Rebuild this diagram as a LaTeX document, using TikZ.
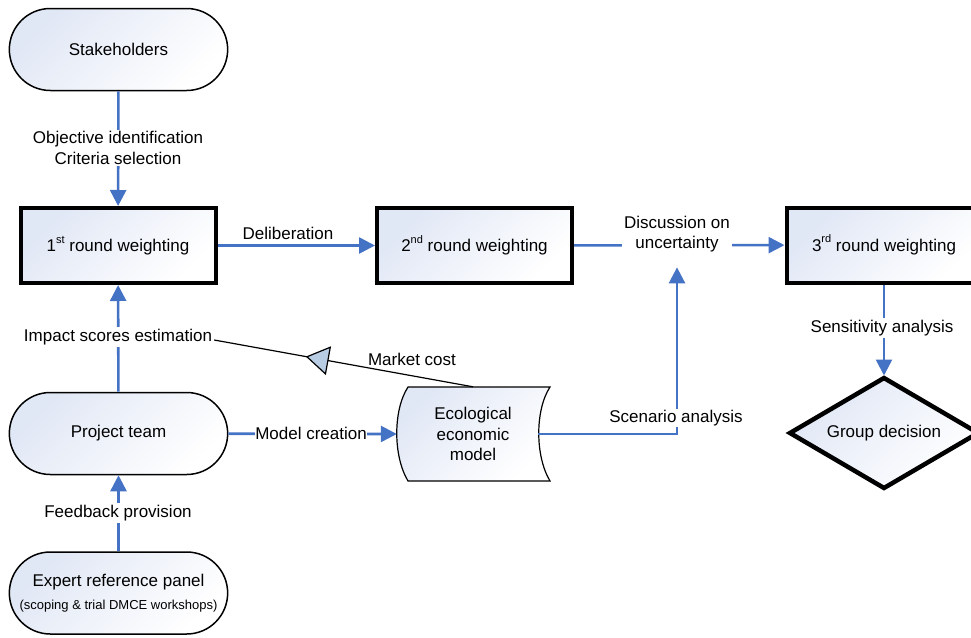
\documentclass[tikz,border=0pt]{standalone}
\usepackage{fontspec}
\setmainfont{Liberation Sans}
\usetikzlibrary{arrows.meta,shapes.geometric,shapes.misc,decorations.markings}
\definecolor{arrblue}{RGB}{68,114,196}
\definecolor{shadec}{RGB}{224,231,245}
\definecolor{tipfill}{RGB}{184,204,228}
\newcommand{\mysup}[1]{\raisebox{0.5em}{\fontsize{11}{11}\selectfont #1}}
\tikzset{
  base/.style={font=\fontsize{17}{20.5}\selectfont, align=center},
  shd/.style={top color=shadec, bottom color=white, shading angle=45},
  stadium/.style={base, rounded rectangle, draw=black, line width=1.5pt,
    minimum width=225pt, minimum height=82pt, shd},
  wbox/.style={base, rectangle, draw=black, line width=4pt,
    minimum width=195pt, minimum height=75pt, shd},
  lbl/.style={base, fill=white, inner sep=2pt},
  arr/.style={draw=arrblue, line width=2.6pt, -{Triangle[length=16pt,width=16pt]}},
}
\begin{document}
\begin{tikzpicture}[x=1pt,y=-1pt]
\useasboundingbox (0,0) rectangle (971,637);
% shapes
\node[stadium] (stake) at (118.5,49.5) {Stakeholders};
\node[wbox] (r1) at (118,245.5) {1\mysup{st} round weighting};
\node[wbox] (r2) at (474.5,245.5) {2\mysup{nd} round weighting};
\node[wbox] (r3) at (884,245) {3\mysup{rd} round weighting};
\node[stadium] (team) at (118.5,433.5) {Project team};
\node[stadium] (expert) at (118.5,593) {Expert reference panel\\[2pt]{\fontsize{13}{15}\selectfont (scoping \& trial DMCE workshops)}};
\path[draw=black, line width=4.5pt, line join=miter, shd]
  (884,378) -- (978,433) -- (884,488) -- (790,433) -- cycle;
\node[base, minimum width=188pt, minimum height=115pt, inner sep=0pt, outer sep=0pt] (dec) at (884,433) {Group decision};
\path[draw=black, line width=1.2pt, shd]
  (408,387) -- (550,387) .. controls (535,410) and (535,456) .. (550,481)
  -- (408,481) .. controls (393,456) and (393,410) .. (408,387) -- cycle;
\node[base, minimum width=152pt, minimum height=94pt, inner sep=0pt] (model) at (473,434) {Ecological\\economic\\model};
% connectors
\draw[arr] (stake) -- (r1);
\node[lbl] (obj) at (118,148) {Objective identification\\Criteria selection};
\draw[arr] (team) -- (r1);
\node[lbl] (imp) at (118,337) {Impact scores estimation};
\draw[arr] (expert) -- (team);
\node[lbl] (fb) at (118,513) {Feedback provision};
\draw[arr] (r1) -- (r2);
\node[base] (delib) at (288,233) {Deliberation};
\draw[arr] (r2) -- (r3);
\node[lbl] (disc) at (677,234) {Discussion on\\uncertainty};
\draw[arr] ([xshift=-11pt]model.east) -| ([yshift=-13pt]disc.south);
\node[lbl, inner ysep=1pt] (scen) at (676,418) {Scenario analysis};
\draw[arr] (team) -- (model.west);
\node[lbl, inner xsep=0.5pt] (mc) at (311,433) {Model creation};
\draw[arr] (r3) -- (dec);
\node[lbl] (sens) at (882,328) {Sensitivity analysis};
\draw[black, line width=1.2pt, postaction=decorate,
  decoration={markings, mark=at position 0.646 with {\arrow{Triangle[length=23pt,width=29pt,fill=tipfill]}}}]
  (model.north) -- ([yshift=-3pt]imp.east);
\node[base] (mcost) at (412,359) {Market cost};
\end{tikzpicture}
\end{document}
